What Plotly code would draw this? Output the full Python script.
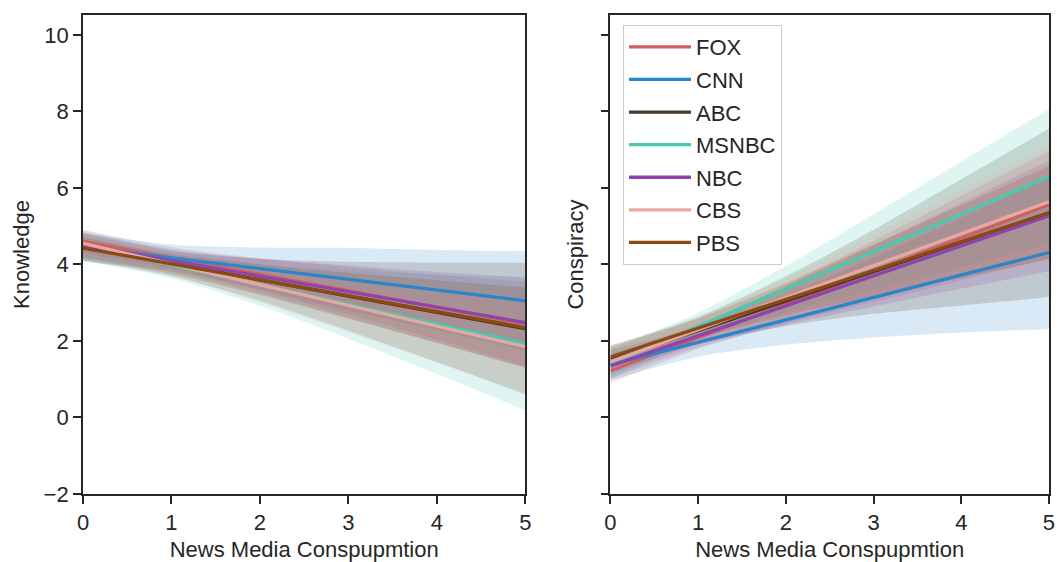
import plotly.graph_objects as go

series = ["FOX", "CNN", "ABC", "MSNBC", "NBC", "CBS", "PBS"]
colors = ["#d05f5f", "#2a86c8", "#4b3a28", "#48c9b0", "#8e44ad", "#e8a8a2", "#8b4a13"]
band_rgb = ["208,95,95", "42,134,200", "75,58,40", "72,201,176", "142,68,173", "232,168,162", "139,74,19"]

x_line = [0, 5]
x_band = [0, 1, 2, 3, 4, 5]

# Knowledge (left)
know_start = [4.60, 4.45, 4.45, 4.50, 4.50, 4.55, 4.43]
know_end = [2.45, 3.05, 2.32, 1.93, 2.48, 1.85, 2.35]
know_lower = [
    [4.30, 3.89, 3.32, 2.69, 2.03, 1.35],
    [4.07, 3.82, 3.34, 2.79, 2.28, 1.75],
    [4.10, 3.69, 3.05, 2.27, 1.45, 0.60],
    [4.10, 3.63, 2.92, 2.06, 1.14, 0.18],
    [4.18, 3.80, 3.24, 2.61, 1.96, 1.30],
    [4.23, 3.71, 3.01, 2.23, 1.44, 0.63],
    [4.15, 3.75, 3.20, 2.58, 1.95, 1.30],
]
know_upper = [
    [4.90, 4.45, 4.16, 3.93, 3.73, 3.55],
    [4.83, 4.52, 4.44, 4.43, 4.38, 4.35],
    [4.80, 4.35, 4.15, 4.07, 4.05, 4.04],
    [4.90, 4.35, 4.02, 3.86, 3.74, 3.68],
    [4.82, 4.40, 4.14, 3.97, 3.80, 3.66],
    [4.87, 4.31, 3.93, 3.63, 3.34, 3.07],
    [4.71, 4.27, 4.00, 3.78, 3.59, 3.40],
]

# Conspiracy (right)
consp_start = [1.22, 1.38, 1.50, 1.40, 1.35, 1.46, 1.58]
consp_end = [5.56, 4.31, 5.35, 6.29, 5.27, 5.64, 5.35]
consp_lower = [
    [0.90, 1.79, 2.46, 3.02, 3.59, 4.16],
    [0.98, 1.59, 1.90, 2.09, 2.22, 2.31],
    [1.12, 1.91, 2.39, 2.71, 2.93, 3.15],
    [1.00, 2.02, 2.76, 3.35, 3.93, 4.52],
    [1.03, 1.83, 2.42, 2.90, 3.37, 3.82],
    [1.14, 2.00, 2.63, 3.17, 3.68, 4.19],
    [1.30, 2.07, 2.67, 3.16, 3.65, 4.13],
]
consp_upper = [
    [1.54, 2.39, 3.46, 4.62, 5.79, 6.96],
    [1.78, 2.35, 3.20, 4.19, 5.22, 6.31],
    [1.88, 2.63, 3.69, 4.91, 6.23, 7.55],
    [1.80, 2.74, 3.96, 5.31, 6.69, 8.06],
    [1.67, 2.43, 3.42, 4.50, 5.61, 6.72],
    [1.78, 2.60, 3.63, 4.77, 5.92, 7.09],
    [1.86, 2.59, 3.51, 4.52, 5.55, 6.57],
]

x_ticks = [0, 1, 2, 3, 4, 5]
y_ticks = [-2, 0, 2, 4, 6, 8, 10]

fig = go.Figure()

panels = [
    ("x", "y", know_start, know_end, know_lower, know_upper, False),
    ("x2", "y2", consp_start, consp_end, consp_lower, consp_upper, True),
]

for xa, ya, st, en, lo, up, show in panels:
    for i, name in enumerate(series):
        fig.add_trace(go.Scatter(x=x_band, y=lo[i], xaxis=xa, yaxis=ya, mode="lines",
                                 line=dict(width=0, shape="spline", smoothing=0.8),
                                 showlegend=False, hoverinfo="skip"))
        fig.add_trace(go.Scatter(x=x_band, y=up[i], xaxis=xa, yaxis=ya, mode="lines",
                                 line=dict(width=0, shape="spline", smoothing=0.8),
                                 fill="tonexty", fillcolor=f"rgba({band_rgb[i]},0.18)",
                                 showlegend=False, hoverinfo="skip"))
    for i, name in enumerate(series):
        fig.add_trace(go.Scatter(x=x_line, y=[st[i], en[i]], xaxis=xa, yaxis=ya, mode="lines",
                                 line=dict(color=colors[i], width=3.3), name=name,
                                 legendgroup=name, showlegend=show))

axis_common = dict(showline=True, linecolor="#262626", linewidth=1.8, mirror=True,
                   ticks="outside", ticklen=8, tickwidth=1.6, tickcolor="#262626",
                   showgrid=False, zeroline=False, automargin=False,
                   tickfont=dict(size=22, color="#262626"))

fig.update_layout(
    template="none",
    width=1057, height=562,
    margin=dict(l=83, r=8, t=15, b=68, pad=0),
    plot_bgcolor="white", paper_bgcolor="white",
    font=dict(family="Liberation Sans, Arial, sans-serif", size=22, color="#262626"),
    xaxis=dict(domain=[0, 0.458], range=[0, 5], tickvals=x_ticks,
               title=dict(text="News Media Conspupmtion", font=dict(size=22), standoff=7), **axis_common),
    xaxis2=dict(domain=[0.546, 1], range=[0, 5], tickvals=x_ticks, anchor="y2",
                title=dict(text="News Media Conspupmtion", font=dict(size=22), standoff=7), **axis_common),
    yaxis=dict(range=[-2, 10.52], tickvals=y_ticks,
               title=dict(text="Knowledge", font=dict(size=22), standoff=8), **axis_common),
    yaxis2=dict(range=[-2, 10.52], tickvals=y_ticks, anchor="x2", showticklabels=False,
                title=dict(text="Conspiracy", font=dict(size=22), standoff=11), **axis_common),
    legend=dict(x=0.559, y=0.979, xanchor="left", yanchor="top",
                bgcolor="white", bordercolor="#cccccc", borderwidth=1,
                font=dict(size=22, color="#262626"), itemwidth=62, tracegroupgap=1),
    showlegend=True,
)

fig.write_html("out.html", config={"displayModeBar": False},
               post_script="document.body.style.margin='0';document.body.style.overflow='hidden';")
